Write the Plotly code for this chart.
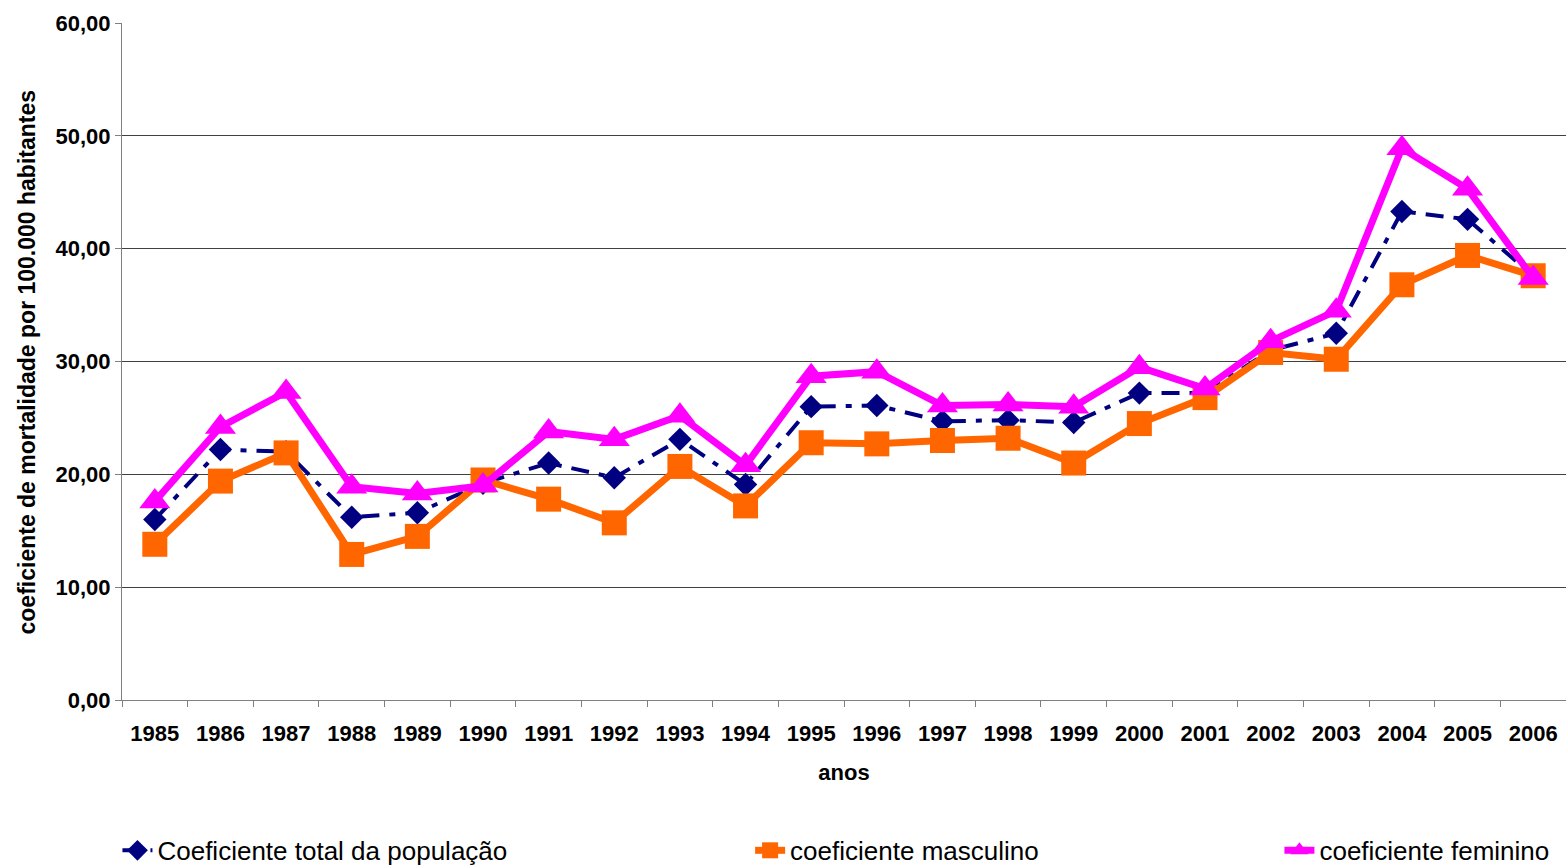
import plotly.graph_objects as go

anos = ['1985', '1986', '1987', '1988', '1989', '1990', '1991', '1992', '1993', '1994', '1995',
        '1996', '1997', '1998', '1999', '2000', '2001', '2002', '2003', '2004', '2005', '2006']

coef_total = [16.0, 22.2, 22.0, 16.2, 16.6, 19.2, 21.0, 19.7, 23.1, 19.1, 26.0,
              26.1, 24.7, 24.8, 24.6, 27.2, 27.2, 31.0, 32.5, 43.3, 42.6, 37.6]
coef_masculino = [13.8, 19.4, 21.9, 12.9, 14.5, 19.5, 17.8, 15.7, 20.7, 17.2, 22.8,
                  22.7, 23.0, 23.2, 21.0, 24.5, 26.8, 30.8, 30.2, 36.8, 39.4, 37.6]
coef_feminino = [17.6, 24.2, 27.3, 18.9, 18.3, 19.0, 23.8, 23.1, 25.2, 20.8, 28.7,
                 29.1, 26.1, 26.2, 26.0, 29.5, 27.6, 31.8, 34.5, 48.9, 45.3, 37.4]

y_ticks = [0, 10, 20, 30, 40, 50, 60]

font_fam = "Liberation Sans, Arial, sans-serif"

fig = go.Figure()

fig.add_trace(go.Scatter(
    x=anos, y=coef_total, name="Coeficiente total da população",
    mode="lines+markers",
    line=dict(color="#000080", width=4, dash="18px,10px,6px,10px"),
    marker=dict(symbol="diamond", size=18, color="#000080"),
    legend="legend"
))
fig.add_trace(go.Scatter(
    x=anos, y=coef_masculino, name="coeficiente masculino",
    mode="lines+markers",
    line=dict(color="#FF6600", width=7),
    marker=dict(symbol="square", size=25, color="#FF6600"),
    legend="legend2"
))
fig.add_trace(go.Scatter(
    x=anos, y=coef_feminino, name="coeficiente feminino",
    mode="lines+markers",
    line=dict(color="#FF00FF", width=7),
    marker=dict(symbol="triangle-up", size=27, color="#FF00FF"),
    legend="legend3"
))

# one legend box per item so each can sit where the original puts it
leg_common = dict(orientation="h", xref="container", yref="container",
                  yanchor="middle", y=0.018, xanchor="left",
                  font=dict(family=font_fam, size=26, color="#000000"),
                  bgcolor="rgba(0,0,0,0)")

fig.update_layout(
    width=1566, height=866,
    margin=dict(l=122, r=0, t=23, b=166, autoexpand=False),
    plot_bgcolor="white", paper_bgcolor="white",
    separators=",.",
    showlegend=True,
    font=dict(family=font_fam, color="#000000"),
    legend=dict(x=0.075, **leg_common),
    legend2=dict(x=0.479, **leg_common),
    legend3=dict(x=0.817, **leg_common),
    xaxis=dict(
        type="category", range=[-0.5, 21.5],
        showline=True, linecolor="#808080", linewidth=1,
        ticks="outside", tickson="boundaries", ticklen=6, tickcolor="#808080",
        ticklabelstandoff=14,
        tickfont=dict(family=font_fam, size=22, color="#000000", weight="bold"),
        title=dict(text="<b>anos</b>", font=dict(family=font_fam, size=22), standoff=19),
        showgrid=False
    ),
    yaxis=dict(
        range=[0, 60], tickvals=y_ticks, tickformat=".2f",
        showline=True, linecolor="#808080", linewidth=1,
        ticks="outside", ticklen=6, tickcolor="#808080",
        tickfont=dict(family=font_fam, size=22, color="#000000", weight="bold"),
        showgrid=True, gridcolor="#404040", gridwidth=1, zeroline=False
    )
)

# y title as an annotation, so it can sit closer to the left edge
fig.add_annotation(
    text="<b>coeficiente de mortalidade por 100.000 habitantes</b>",
    xref="paper", yref="paper", x=-0.0658, y=0.5,
    xanchor="center", yanchor="middle", textangle=-90, showarrow=False,
    font=dict(family=font_fam, size=23, color="#000000")
)

fig.write_html("out.html", config={"displayModeBar": False},
               post_script="document.body.style.margin='0';")
